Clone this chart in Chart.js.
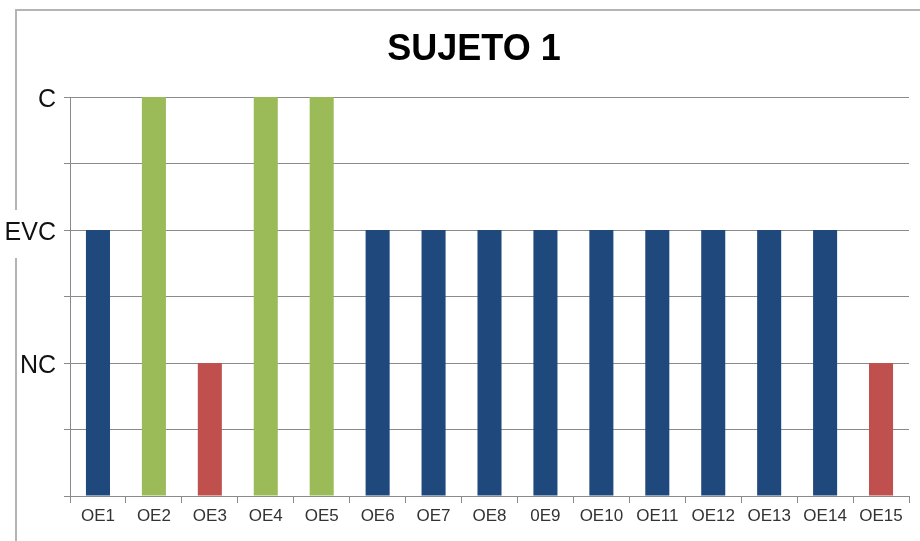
<!DOCTYPE html>
<html>
<head>
<meta charset="utf-8">
<script src="https://cdn.jsdelivr.net/npm/chart.js@4"></script>
<style>
  html, body { margin: 0; padding: 0; background: #fff; }
  #wrap { width: 920px; height: 541px; }
</style>
</head>
<body>
<div id="wrap"><canvas id="chart1"></canvas></div>
<script>
const labels = ['OE1', 'OE2', 'OE3', 'OE4', 'OE5', 'OE6', 'OE7', 'OE8', '0E9', 'OE10', 'OE11', 'OE12', 'OE13', 'OE14', 'OE15'];
// 1 = NC, 2 = EVC, 3 = C
const values = [2, 3, 1, 3, 3, 2, 2, 2, 2, 2, 2, 2, 2, 2, 1];
const levelNames = { 1: 'NC', 2: 'EVC', 3: 'C' };
const titleText = 'SUJETO 1';

const colorFor = v => v === 3 ? '#9bbb59' : (v === 1 ? '#c0504d' : '#1f497d');

// frame around the chart + title (title sits a bit right of the canvas centre)
const framePlugin = {
    id: 'frame',
    beforeDraw(chart) {
        const ctx = chart.ctx;
        ctx.save();
        ctx.fillStyle = '#fff';
        ctx.fillRect(0, 0, chart.width, chart.height);
        ctx.strokeStyle = '#b4b4b4';
        ctx.lineWidth = 2;
        ctx.strokeRect(16, 10, chart.width + 20, chart.height + 20);
        ctx.restore();
    },
    afterDraw(chart) {
        const ctx = chart.ctx;
        ctx.save();
        ctx.fillStyle = '#000';
        ctx.font = 'bold 36px "Liberation Sans"';
        ctx.textAlign = 'center';
        ctx.textBaseline = 'middle';
        ctx.fillText(titleText, 474, 50);
        ctx.restore();
    }
};

const ctx = document.getElementById('chart1').getContext('2d');
new Chart(ctx, {
    type: 'bar',
    data: {
        labels: labels,
        datasets: [{
            data: values,
            backgroundColor: values.map(colorFor),
            categoryPercentage: 1,
            barPercentage: 0.43
        }]
    },
    options: {
        responsive: true,
        maintainAspectRatio: false,
        animation: false,
        layout: { padding: { left: 0, right: 11, top: 97, bottom: 0 } },
        scales: {
            x: {
                offset: true,
                grid: {
                    offset: true,
                    drawOnChartArea: false,
                    drawTicks: true,
                    tickLength: 7,
                    color: '#8a8a8a'
                },
                border: { color: '#8a8a8a', width: 1 },
                ticks: {
                    color: '#333',
                    font: { family: 'Liberation Sans', size: 17 },
                    padding: 3,
                    maxRotation: 0,
                    autoSkip: false
                },
                afterFit(scale) { scale.height = 45; }
            },
            y: {
                min: 0,
                max: 3,
                grid: {
                    color: '#8a8a8a',
                    tickLength: 6
                },
                border: { color: '#8a8a8a', width: 1 },
                ticks: {
                    stepSize: 0.5,
                    color: '#111',
                    font: { family: 'Liberation Sans', size: 25 },
                    padding: 8,
                    labelOffset: 3,
                    callback: v => levelNames[v] || '',
                    showLabelBackdrop: true,
                    backdropColor: '#fff',
                    backdropPadding: { top: 8, bottom: 10, left: 2, right: 2 }
                },
                afterFit(scale) { scale.width = 70; }
            }
        },
        plugins: {
            legend: { display: false },
            tooltip: { enabled: false },
            title: { display: false }
        }
    },
    plugins: [framePlugin]
});
</script>
</body>
</html>
